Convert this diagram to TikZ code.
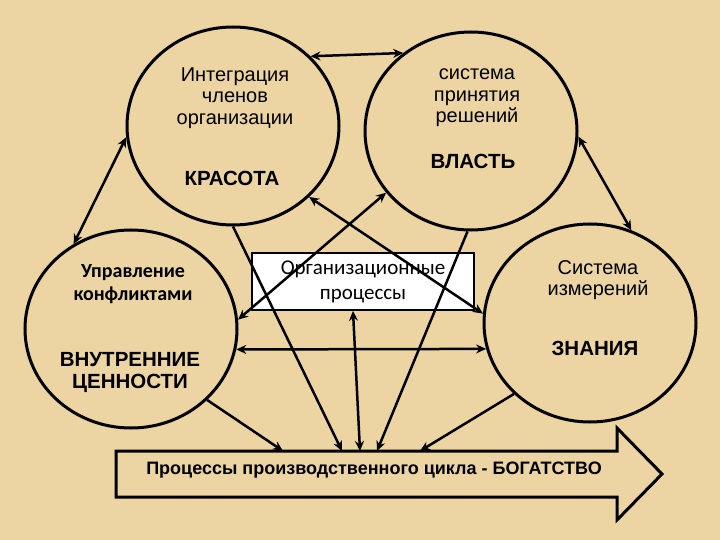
\documentclass[tikz,border=0pt]{standalone}
\usepackage{fontspec}
\setmainfont{Liberation Sans}
\newfontfamily\calib{Carlito}
\usepackage{tikz}
\usetikzlibrary{arrows.meta,shapes.geometric}

\definecolor{parch}{RGB}{236,213,162}

\tikzset{
  ring/.style={draw, ellipse, line width=3pt, minimum width=212pt, minimum height=198pt, inner sep=0pt},
  link/.style={line width=2.5pt, {Stealth[length=10pt,width=9pt]}-{Stealth[length=10pt,width=9pt]}},
  feed/.style={line width=2.5pt, -{Stealth[length=10pt,width=9pt]}},
  txt/.style={align=center, font=\fontsize{20}{21.5}\selectfont},
  big/.style={font=\bfseries\fontsize{20.5}{22}\selectfont}
}

\begin{document}
\begin{tikzpicture}[x=1pt,y=-1pt]
    \useasboundingbox (0,0) rectangle (720,540);
    \fill [parch] (0,0) rectangle (720,540);

    % circles
    \node [ring] (kr) at (233,126) {};
    \node [ring] (vl) at (471,131) {};
    \node [ring] (vn) at (131,329) {};
    \node [ring] (zn) at (590,323) {};

    % label
    \node [txt] (kr1) at (235,98) {Интеграция\\членов\\организации};
    \node [big] (kr2) at (232,178) {КРАСОТА};
    \node [txt] (vl1) at (477,98) {система\\принятия\\решений};
    \node [big] (vl2) at (473,161) {ВЛАСТЬ};
    \node [txt, font=\calib\bfseries\fontsize{20}{23}\selectfont] (vn1) at (133,284) {Управление\\конфликтами};
    \node [big, align=center, font=\bfseries\fontsize{20.5}{22}\selectfont] (vn2) at (130,372) {ВНУТРЕННИЕ\\ЦЕННОСТИ};
    \node [txt] (zn1) at (598,280) {Система\\измерений};
    \node [big] (zn2) at (595,348) {ЗНАНИЯ};

    % box
    \node [draw, fill=white, line width=1.8pt, minimum width=222pt, minimum height=57pt,
           align=center, font=\calib\fontsize{21}{25}\selectfont] (org) at (363,281.5)
           {Организационные\\процессы};

    % big arrow
    \draw [line width=3pt, line join=miter] (116,451) -- (617,451) -- (617,428) -- (662,474)
          -- (617,520) -- (617,497) -- (116,497) -- cycle;
    \node [font=\bfseries\fontsize{18}{21}\selectfont] (cyc) at (374,470) {Процессы производственного цикла - БОГАТСТВО};
    \coordinate (c1) at (283,451);
    \coordinate (c2) at (342,451);
    \coordinate (c3) at (360,451);
    \coordinate (c4) at (377,451);
    \coordinate (c5) at (420,451);

    % <->
    \draw [link] (kr.42) -- (vl.131);
    \draw [link] (kr.-174) -- (vn.124);
    \draw [link] (vl.-3) -- (zn.66);
    \draw [link] (vn.-11) -- (zn.-166);
    \draw [link] (kr.-43) -- (zn.175);
    \draw [link] (vl.-144) -- (vn.5);
    \draw [link] ([xshift=-10pt]org.south) -- (c3);

    % ->
    \draw [feed] (kr.-90) -- (c2);
    \draw [feed] (vl.-92) -- (c4);
    \draw [feed] (vn.-43) -- (c1);
    \draw [feed] (zn.-137) -- (c5);
\end{tikzpicture}
\end{document}
